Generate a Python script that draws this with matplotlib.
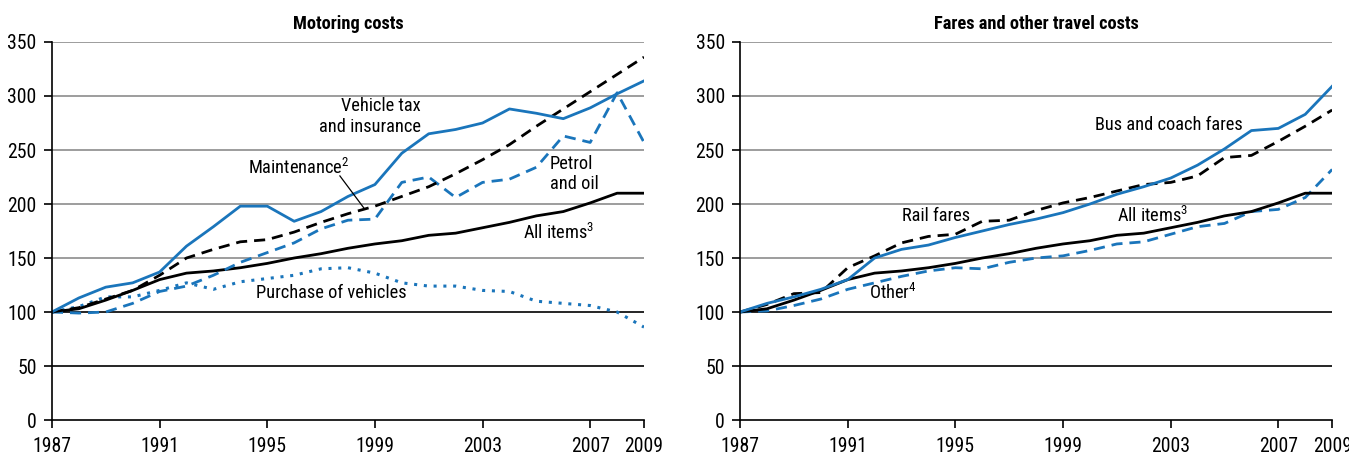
import matplotlib
matplotlib.use("Agg")
import matplotlib.pyplot as plt

plt.rcParams['font.family'] = ['Roboto Condensed', 'Archivo Narrow', 'DejaVu Sans']
plt.rcParams['mathtext.fontset'] = 'custom'
plt.rcParams['mathtext.rm'] = 'Roboto Condensed'
plt.rcParams['mathtext.it'] = 'Roboto Condensed'

years = list(range(1987, 2010))
xticks = [1987, 1991, 1995, 1999, 2003, 2007, 2009]
yticks = [0, 50, 100, 150, 200, 250, 300, 350]

# Motoring costs
vehicle_tax = [100, 113, 123, 127, 137, 161, 179, 198, 198, 184, 193, 207, 218,
               247, 265, 269, 275, 288, 284, 279, 289, 302, 314]
maintenance = [100, 104, 112, 120, 134, 150, 158, 165, 167, 174, 183, 191, 198,
               207, 216, 228, 241, 255, 272, 288, 304, 320, 336]
petrol_oil = [100, 99, 100, 108, 119, 124, 134, 146, 155, 164, 177, 185, 186,
              220, 225, 206, 220, 223, 234, 263, 257, 303, 257]
purchase = [100, 105, 114, 114, 120, 127, 121, 128, 131, 134, 140, 141, 136,
            127, 124, 124, 120, 119, 110, 108, 106, 100, 86]
all_items = [100, 103, 111, 120, 130, 136, 138, 141, 145, 150, 154, 159, 163,
             166, 171, 173, 178, 183, 189, 193, 201, 210, 210]

# Fares and other travel costs
bus_coach = [100, 108, 114, 121, 130, 150, 158, 162, 169, 175, 181, 186, 192,
             200, 209, 216, 224, 236, 251, 268, 270, 283, 309]
rail = [100, 107, 117, 118, 141, 152, 164, 170, 172, 184, 185, 194, 201,
        206, 212, 218, 220, 226, 243, 245, 258, 272, 287]
other = [100, 101, 106, 112, 121, 127, 133, 138, 141, 140, 146, 150, 152,
         157, 163, 165, 172, 179, 182, 193, 195, 206, 232]

BLUE = '#1a75bb'
FS = 13.2

fig = plt.figure(figsize=(13.49, 4.55), dpi=100)
ax1 = fig.add_axes([0.0385, 0.0769, 0.4389, 0.8308])
ax2 = fig.add_axes([0.5486, 0.0769, 0.4389, 0.8308])


def style_axes(ax, title):
    ax.set_xlim(1987, 2009)
    ax.set_ylim(0, 350)
    for y in yticks[1:]:
        ax.axhline(y, color='black' if y <= 100 else '#8c8c8c', lw=1.2, zorder=0)
    ax.set_xticks(xticks)
    ax.set_yticks(yticks)
    ax.tick_params(axis='both', labelsize=FS + 1, length=6, width=1.2)
    ax.tick_params(axis='y', pad=5)
    ax.tick_params(axis='x', direction='out', pad=6)
    for s in ['top', 'right']:
        ax.spines[s].set_visible(False)
    ax.spines['left'].set_linewidth(1.2)
    ax.spines['bottom'].set_linewidth(1.2)
    ax.set_title(title, fontsize=FS, fontweight='bold', pad=9)


style_axes(ax1, 'Motoring costs')
lw = 2.0
ax1.plot(years, purchase, color=BLUE, lw=2.2, ls=(0, (1, 2.2)))
ax1.plot(years, all_items, color='black', lw=lw)
ax1.plot(years, petrol_oil, color=BLUE, lw=lw, ls=(0, (4, 2.5)))
ax1.plot(years, maintenance, color='black', lw=lw, ls=(0, (4, 2.5)))
ax1.plot(years, vehicle_tax, color=BLUE, lw=lw)

ax1.text(2000.7, 281, 'Vehicle tax\nand insurance', ha='right', va='center',
         fontsize=FS, linespacing=1.15)
ax1.text(1994.3, 233, 'Maintenance$^2$', ha='left', va='center', fontsize=FS)
ax1.plot([1997.7, 1998.6], [226, 196], color='black', lw=0.9)
ax1.text(2005.5, 228, 'Petrol\nand oil', ha='left', va='center', fontsize=FS,
         linespacing=1.15)
ax1.text(2004.5, 173, 'All items$^3$', ha='left', va='center', fontsize=FS)
ax1.text(1994.6, 118, 'Purchase of vehicles', ha='left', va='center', fontsize=FS)

style_axes(ax2, 'Fares and other travel costs')
ax2.plot(years, other, color=BLUE, lw=lw, ls=(0, (4, 2.5)))
ax2.plot(years, all_items, color='black', lw=lw)
ax2.plot(years, rail, color='black', lw=lw, ls=(0, (4, 2.5)))
ax2.plot(years, bus_coach, color=BLUE, lw=lw)

ax2.text(2000.2, 273, 'Bus and coach fares', ha='left', va='center', fontsize=FS)
ax2.text(1993.0, 189, 'Rail fares', ha='left', va='center', fontsize=FS)
ax2.text(2001.0, 189, 'All items$^3$', ha='left', va='center', fontsize=FS)
ax2.text(1991.8, 118, 'Other$^4$', ha='left', va='center', fontsize=FS)

fig.savefig('out.png', dpi=100)
